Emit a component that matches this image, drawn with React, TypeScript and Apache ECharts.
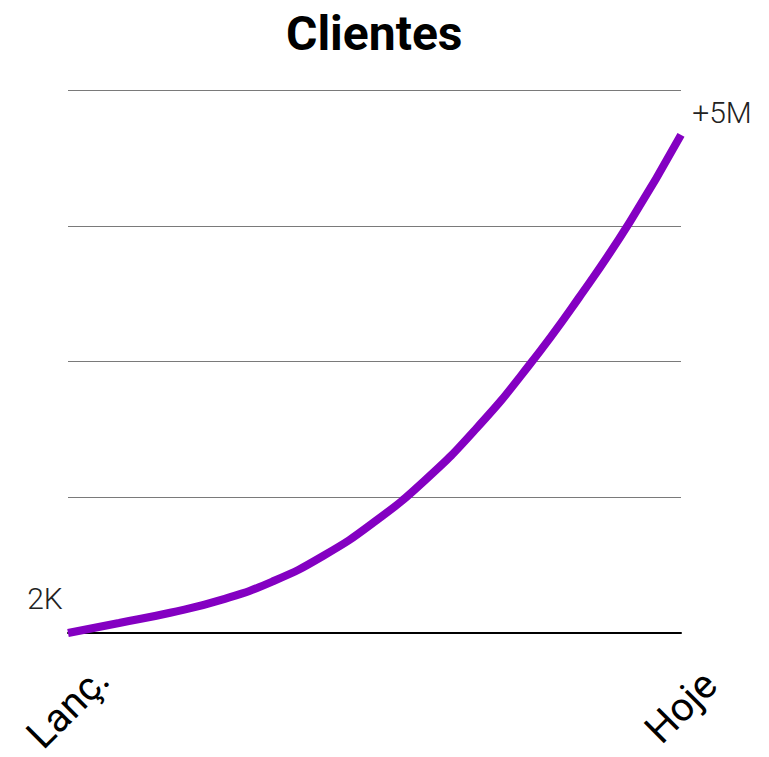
import React, { useEffect, useRef } from "react";
import * as echarts from "echarts";

const title = "Clientes";
const categories = ["Lanç.", "", "", "", "", "", "", "", "", "", "", "", "Hoje"];
const values = [0, 0.074, 0.149, 0.244, 0.379, 0.569, 0.819, 1.129, 1.509, 1.959, 2.469, 3.029, 3.669];
const pointLabels = ["2K", "", "", "", "", "", "", "", "", "", "", "", "+5M"];

export default function App() {
  const ref = useRef<HTMLDivElement>(null);
  useEffect(() => {
    const chart = echarts.init(ref.current!, null, { renderer: "svg" });
    const data = values.map((v, i) => {
      if (!pointLabels[i]) return v;
      return {
        value: v,
        label: {
          show: true,
          formatter: pointLabels[i],
          position: "inside",
          align: "center",
          verticalAlign: "middle",
          offset: i === 0 ? [-23, -35] : [41, -22],
          fontFamily: "Roboto",
          fontWeight: 300,
          fontSize: 30,
          color: "#222",
        },
      };
    });
    chart.setOption({
      animation: false,
      title: {
        text: title,
        left: 281,
        top: 4,
        textStyle: { fontFamily: "Roboto", fontWeight: "bold", fontSize: 48, color: "#000" },
      },
      grid: { left: 68, right: 88, top: 90, bottom: 124, containLabel: false, outerBoundsMode: "none" },
      xAxis: {
        type: "category",
        data: categories,
        boundaryGap: false,
        axisLine: { show: true, lineStyle: { color: "#000", width: 2 } },
        axisTick: { show: false },
        axisLabel: {
          interval: 0,
          rotate: 45,
          align: "center",
          verticalAlign: "middle",
          margin: 74,
          fontFamily: "Roboto",
          fontSize: 40,
          color: "#000",
        },
        splitLine: { show: false },
      },
      yAxis: {
        type: "value",
        min: 0,
        max: 4,
        interval: 1,
        axisLine: { show: false },
        axisTick: { show: false },
        axisLabel: { show: false },
        splitLine: { show: true, lineStyle: { color: "#7a7a7a", width: 1 } },
      },
      series: [
        {
          type: "line",
          data,
          smooth: 0.5,
          showSymbol: true,
          symbol: "circle",
          symbolSize: 1,
          itemStyle: { color: "rgba(0,0,0,0)" },
          lineStyle: { color: "#8400C2", width: 8 },
          label: { show: false },
          z: 3,
        },
      ],
    });
    return () => chart.dispose();
  }, []);
  return <div ref={ref} style={{ width: 769, height: 757, margin: -8 }} />;
}
